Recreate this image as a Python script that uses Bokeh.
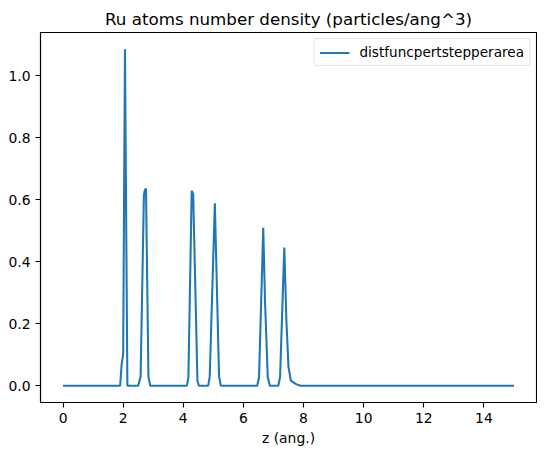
from bokeh.plotting import figure
from bokeh.models import Range1d, FixedTicker, PrintfTickFormatter, Legend, LegendItem
from bokeh.embed import file_html
from bokeh.resources import INLINE

# Data (z in ang., density in particles/ang^3)
z = [0.0, 1.9, 1.95, 2.0, 2.06, 2.14,
     2.5, 2.58, 2.69, 2.72, 2.76, 2.84, 2.9,
     4.12, 4.17, 4.28, 4.33, 4.47, 4.52,
     4.83, 4.88, 5.05, 5.19, 5.25,
     6.46, 6.52, 6.66, 6.72, 6.81, 6.88,
     7.16, 7.22, 7.36, 7.43, 7.5, 7.58, 7.75, 7.9, 15.0]
density = [0.0, 0.0, 0.07, 0.1, 1.085, 0.0,
           0.0, 0.03, 0.615, 0.63, 0.636, 0.03, 0.0,
           0.0, 0.027, 0.629, 0.618, 0.016, 0.0,
           0.0, 0.03, 0.588, 0.03, 0.0,
           0.0, 0.027, 0.509, 0.27, 0.027, 0.0,
           0.0, 0.027, 0.446, 0.21, 0.06, 0.016, 0.005, 0.0, 0.0]
x_ticks = [0, 2, 4, 6, 8, 10, 12, 14]
y_ticks = [0.0, 0.2, 0.4, 0.6, 0.8, 1.0]
series_label = "distfuncpertstepperarea"
title_text = "Ru atoms number density (particles/ang^3)"
x_label = "z (ang.)"

FONT = "DejaVu Sans"

xmin, xmax = min(z), max(z)
ymin, ymax = min(density), max(density)
xpad = (xmax - xmin) * 0.05
ypad = (ymax - ymin) * 0.05

p = figure(width=537, height=449, output_backend="svg", toolbar_location=None,
           x_range=Range1d(xmin - xpad, xmax + xpad),
           y_range=Range1d(ymin - ypad, ymax + ypad),
           min_border_left=40, min_border_right=1, min_border_top=32, min_border_bottom=47)

p.title.text = title_text
p.title.text_font = FONT
p.title.text_font_size = "16.7px"
p.title.text_font_style = "normal"
p.title.text_color = "black"
p.title.align = "center"
p.title.standoff = 8

p.grid.visible = False
p.outline_line_color = "black"
p.outline_line_width = 1.1
p.background_fill_color = "white"
p.border_fill_color = "white"

for ax in (p.xaxis[0], p.yaxis[0]):
    ax.axis_line_color = "black"
    ax.axis_line_width = 1.1
    ax.major_tick_line_color = "black"
    ax.major_tick_line_width = 1.1
    ax.major_tick_out = 5
    ax.major_tick_in = 0
    ax.minor_tick_line_color = None
    ax.major_label_text_font = FONT
    ax.major_label_text_font_size = "13.9px"
    ax.major_label_text_color = "black"
    ax.major_label_standoff = 5
    ax.axis_label_text_font = FONT
    ax.axis_label_text_font_size = "13.9px"
    ax.axis_label_text_font_style = "normal"
    ax.axis_label_text_color = "black"

p.xaxis[0].ticker = FixedTicker(ticks=x_ticks)
p.xaxis[0].formatter = PrintfTickFormatter(format="%d")
p.yaxis[0].ticker = FixedTicker(ticks=y_ticks)
p.yaxis[0].formatter = PrintfTickFormatter(format="%.1f")
p.xaxis[0].axis_label = x_label
p.xaxis[0].axis_label_standoff = 4

r = p.line(z, density, line_color="#1f77b4", line_width=2.08)

legend = Legend(items=[LegendItem(label=series_label, renderers=[r])],
                location="top_right")
legend.margin = 6
legend.padding = 5
legend.spacing = 0
legend.glyph_width = 30
legend.glyph_height = 15
legend.label_height = 15
legend.label_standoff = 10
legend.label_text_font = FONT
legend.label_text_font_size = "13.6px"
legend.label_text_color = "black"
legend.border_line_color = "#cccccc"
legend.border_line_width = 1
legend.border_radius = 3
legend.background_fill_alpha = 0.8
p.add_layout(legend)

open("out.html", "w").write(file_html(p, INLINE))
